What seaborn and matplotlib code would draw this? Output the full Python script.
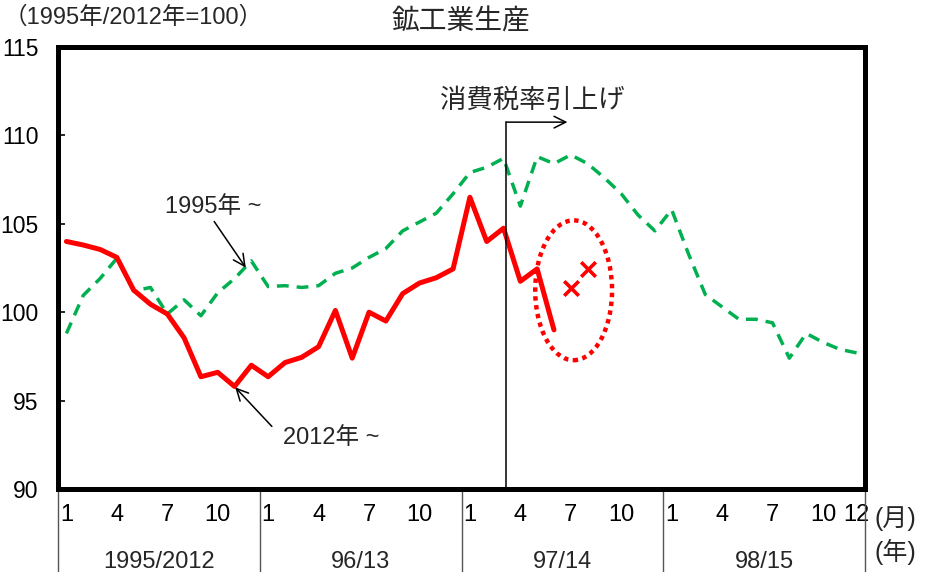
"""鉱工業生産: 1995年~ と 2012年~ の比較 (1995年/2012年=100)。"""
import matplotlib
matplotlib.use("Agg")
import matplotlib.pyplot as plt
import matplotlib.transforms as mtransforms
from matplotlib.patches import Ellipse
import numpy as np
import pandas as pd
import seaborn as sns

# ---- data -------------------------------------------------------------
MONTH_TICKS = [1, 4, 7, 10]
YEAR_LABELS = ["1995/2012", "96/13", "97/14", "98/15"]

GREEN_1995 = [98.8, 100.95, 101.9, 103.05, 101.2, 101.4, 99.9, 100.7,
              99.8, 101.1, 101.9, 102.9, 101.45, 101.5, 101.4, 101.5,
              102.2, 102.5, 103.1, 103.6, 104.6, 105.1, 105.6, 106.7,
              107.9, 108.2, 108.7, 106.0, 108.8, 108.4, 108.9, 108.4,
              107.6, 106.7, 105.5, 104.6, 105.8, 103.3, 101.0, 100.3,
              99.6, 99.6, 99.4, 97.4, 98.8, 98.3, 97.9, 97.7]
RED_2012 = [104.0, 103.8, 103.55, 103.1, 101.25, 100.45, 99.9, 98.55,
            96.35, 96.6, 95.8, 97.0, 96.35, 97.15, 97.45, 98.05,
            100.1, 97.4, 100.0, 99.5, 101.05, 101.65, 101.95, 102.45,
            106.5, 104.0, 104.75, 101.75, 102.45, 99.0]
RED_FORECAST_IDX = [30, 31]
RED_FORECAST = [101.35, 102.45]

FONT = ["Liberation Sans", "Noto Sans CJK JP"]
GREEN = "#00B050"
RED = "#FF0000"
FS = 17

sns.set_theme(style="white")
plt.rcParams["font.family"] = FONT

n = len(GREEN_1995)
df_g = pd.DataFrame({"idx": np.arange(n), "v": GREEN_1995})
df_r = pd.DataFrame({"idx": np.arange(len(RED_2012)), "v": RED_2012})
df_x = pd.DataFrame({"idx": RED_FORECAST_IDX, "v": RED_FORECAST})

fig = plt.figure(figsize=(9.32, 5.72), dpi=100)
ax = fig.add_axes([58 / 932, 1 - 489 / 572, 807 / 932, 442 / 572])

sns.lineplot(data=df_g, x="idx", y="v", ax=ax, color=GREEN,
             linewidth=2.5, linestyle=(0, (3.4, 2.3)))
sns.lineplot(data=df_r, x="idx", y="v", ax=ax, color=RED, linewidth=3.6)
sns.scatterplot(data=df_x, x="idx", y="v", ax=ax, color=RED, marker="x",
                s=110, linewidth=2.6, zorder=5)

ax.add_patch(Ellipse((30.17, 101.24), 4.57, 7.91, fill=False,
                     edgecolor=RED, linewidth=3.2, linestyle=(0, (1, 1))))

ax.set_xlim(-0.5, n - 0.5)
ax.set_ylim(90, 115)
ax.set_xlabel("")
ax.set_ylabel("")
ax.set_yticks([90, 95, 100, 105, 110, 115])
ax.tick_params(axis="y", direction="in", length=5, width=1.2,
               labelsize=16.5, pad=14, left=True, colors="black")

pos, labs = [], []
for y in range(4):
    for m in MONTH_TICKS:
        pos.append(y * 12 + m - 1)
        labs.append(str(m))
pos.append(47)
labs.append("12")
ax.set_xticks(pos, labs)
ax.tick_params(axis="x", length=0, labelsize=FS, pad=11, colors="black")

for s in ax.spines.values():
    s.set_visible(True)
    s.set_color("black")
    s.set_linewidth(3.6)

trans = mtransforms.blended_transform_factory(ax.transData, ax.transAxes)
for y, lab in enumerate(YEAR_LABELS):
    ax.text(y * 12 + 5.5, -0.165, lab, transform=trans, ha="center",
            va="center", fontsize=FS)
for y in range(5):
    ax.plot([y * 12 - 0.5] * 2, [0, -0.2], transform=trans, color="#555555",
            linewidth=1.0, clip_on=False)
ax.text(1.038, -0.068, "(月)", transform=ax.transAxes, ha="center",
        va="center", fontsize=FS + 1)
ax.text(1.038, -0.143, "(年)", transform=ax.transAxes, ha="center",
        va="center", fontsize=FS + 1)

# 消費税率引上げ
ax.plot([26.15, 26.15], [90, 110.75], color="black", linewidth=1.1)
ax.annotate("", xy=(29.8, 110.75), xytext=(26.15, 110.75),
            arrowprops=dict(arrowstyle="->,head_length=0.7,head_width=0.35",
                            color="black", lw=1.1, shrinkA=0, shrinkB=0))
ax.text(27.74, 111.94, "消費税率引上げ", ha="center", va="center",
        fontsize=19)

# series labels
ax.text(8.73, 105.93, "1995年 ~", ha="center", va="center", fontsize=FS)
ax.annotate("", xy=(10.67, 102.52), xytext=(8.79, 105.13),
            arrowprops=dict(arrowstyle="->,head_length=0.7,head_width=0.35",
                            color="black", lw=1.1, shrinkA=0, shrinkB=0))
ax.text(15.74, 92.88, "2012年 ~", ha="center", va="center", fontsize=FS)
ax.annotate("", xy=(10.04, 95.75), xytext=(12.22, 93.54),
            arrowprops=dict(arrowstyle="->,head_length=0.7,head_width=0.35",
                            color="black", lw=1.1, shrinkA=0, shrinkB=0))

fig.text(0.494, 1 - 22 / 572, "鉱工業生産", ha="center", va="center",
         fontsize=20)
fig.text(4 / 932, 1 - 17 / 572, "（1995年/2012年=100）", ha="left",
         va="center", fontsize=17)

fig.savefig("out.png", dpi=100)
